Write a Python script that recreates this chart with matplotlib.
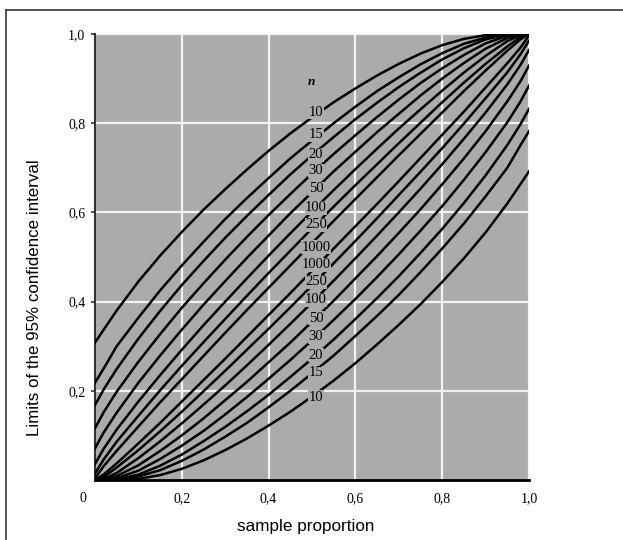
import numpy as np
import matplotlib.pyplot as plt
from matplotlib.lines import Line2D
from matplotlib.transforms import ScaledTranslation

p = [0, 0.02, 0.05, 0.1, 0.15, 0.2, 0.25, 0.3, 0.35, 0.4, 0.45, 0.5,
     0.55, 0.6, 0.65, 0.7, 0.75, 0.8, 0.85, 0.9, 0.95, 0.98, 1.0]

sizes = [10, 15, 20, 30, 50, 100, 250, 1000]

# upper limits of the 95% interval
upper_10 = [0.308, 0.337, 0.380, 0.445, 0.503, 0.556, 0.606, 0.652, 0.696, 0.738, 0.777, 0.813,
            0.847, 0.878, 0.907, 0.933, 0.956, 0.975, 0.989, 0.9975, 0.9995, 0.9999, 1.0]
upper_15 = [0.218, 0.250, 0.300, 0.364, 0.425, 0.481, 0.534, 0.585, 0.632, 0.677, 0.721, 0.761,
            0.800, 0.837, 0.872, 0.903, 0.932, 0.957, 0.978, 0.992, 0.9985, 0.9998, 1.0]
upper_20 = [0.168, 0.203, 0.249, 0.317, 0.379, 0.437, 0.491, 0.543, 0.592, 0.639, 0.685, 0.728,
            0.769, 0.809, 0.846, 0.881, 0.913, 0.943, 0.968, 0.988, 0.9987, 0.9998, 1.0]
upper_30 = [0.116, 0.152, 0.198, 0.265, 0.327, 0.386, 0.441, 0.494, 0.545, 0.594, 0.641, 0.687,
            0.731, 0.773, 0.814, 0.853, 0.890, 0.923, 0.953, 0.979, 0.996, 0.9997, 1.0]
upper_50 = [0.071, 0.1065, 0.151, 0.218, 0.279, 0.337, 0.393, 0.446, 0.498, 0.548, 0.598, 0.645,
            0.692, 0.736, 0.780, 0.821, 0.862, 0.900, 0.935, 0.967, 0.991, 0.9995, 1.0]
upper_100 = [0.036, 0.070, 0.113, 0.176, 0.235, 0.292, 0.347, 0.400, 0.452, 0.503, 0.553, 0.602,
             0.650, 0.697, 0.743, 0.788, 0.831, 0.873, 0.9135, 0.951, 0.984, 0.9976, 1.0]
upper_250 = [0.0146, 0.046, 0.086, 0.144, 0.201, 0.256, 0.309, 0.361, 0.413, 0.464, 0.514, 0.564,
             0.613, 0.661, 0.708, 0.755, 0.801, 0.847, 0.891, 0.933, 0.972, 0.9934, 1.0]
upper_1000 = [0.0037, 0.031, 0.0655, 0.120, 0.174, 0.226, 0.278, 0.330, 0.381, 0.431, 0.481, 0.531,
              0.581, 0.630, 0.679, 0.728, 0.776, 0.824, 0.872, 0.918, 0.9627, 0.9877, 1.0]

# lower limits of the 95% interval
lower_10 = [0.0, 0.0001, 0.0005, 0.0025, 0.011, 0.025, 0.044, 0.067, 0.093, 0.122, 0.153, 0.187,
            0.223, 0.262, 0.304, 0.348, 0.394, 0.444, 0.497, 0.555, 0.620, 0.663, 0.692]
lower_15 = [0.0, 0.0002, 0.0015, 0.008, 0.022, 0.043, 0.068, 0.097, 0.128, 0.163, 0.200, 0.239,
            0.279, 0.323, 0.368, 0.415, 0.466, 0.519, 0.575, 0.636, 0.700, 0.750, 0.782]
lower_20 = [0.0, 0.0002, 0.0013, 0.012, 0.032, 0.057, 0.087, 0.119, 0.154, 0.191, 0.231, 0.272,
            0.315, 0.361, 0.408, 0.457, 0.509, 0.563, 0.621, 0.683, 0.751, 0.797, 0.832]
lower_30 = [0.0, 0.0003, 0.004, 0.021, 0.047, 0.077, 0.110, 0.147, 0.186, 0.227, 0.269, 0.313,
            0.359, 0.406, 0.455, 0.506, 0.559, 0.614, 0.673, 0.735, 0.802, 0.848, 0.884]
lower_50 = [0.0, 0.0005, 0.009, 0.033, 0.065, 0.100, 0.138, 0.179, 0.220, 0.264, 0.308, 0.355,
            0.402, 0.452, 0.502, 0.554, 0.607, 0.663, 0.721, 0.782, 0.849, 0.8935, 0.929]
lower_100 = [0.0, 0.0024, 0.016, 0.049, 0.0865, 0.127, 0.169, 0.212, 0.257, 0.303, 0.350, 0.398,
             0.447, 0.497, 0.548, 0.600, 0.653, 0.708, 0.765, 0.824, 0.887, 0.930, 0.964]
lower_250 = [0.0, 0.0066, 0.028, 0.067, 0.109, 0.153, 0.199, 0.245, 0.292, 0.339, 0.387, 0.436,
             0.486, 0.536, 0.587, 0.639, 0.691, 0.744, 0.799, 0.856, 0.914, 0.954, 0.985]
lower_1000 = [0.0, 0.0123, 0.0373, 0.082, 0.128, 0.176, 0.224, 0.272, 0.321, 0.370, 0.419, 0.469,
              0.519, 0.569, 0.619, 0.670, 0.722, 0.774, 0.826, 0.880, 0.9345, 0.969, 0.9963]

upper = [upper_10, upper_15, upper_20, upper_30, upper_50, upper_100, upper_250, upper_1000]
lower = [lower_10, lower_15, lower_20, lower_30, lower_50, lower_100, lower_250, lower_1000]

xticks = [0, 0.2, 0.4, 0.6, 0.8, 1.0]
xtick_labels = ['0', '0,2', '0,4', '0,6', '0,8', '1,0']
yticks = [0.2, 0.4, 0.6, 0.8, 1.0]
ytick_labels = ['0,2', '0,4', '0,6', '0,8', '1,0']

bg = '#ababab'
serif = ['Liberation Serif', 'DejaVu Serif']
sans = ['Liberation Sans', 'DejaVu Sans']

fig = plt.figure(figsize=(6.23, 5.40), dpi=100)
ax = fig.add_axes([95 / 623, 1 - 480 / 540, 434 / 623, 446 / 540])
ax.set_facecolor(bg)

for u, l in zip(upper, lower):
    ax.plot(p, u, color='black', lw=1.8, zorder=3, solid_joinstyle='round')
    ax.plot(p, l, color='black', lw=1.8, zorder=3, solid_joinstyle='round')

# curve labels sit in a column near p = 0.51, boxed in the background colour
lab_x = 0.509
upper_label_y = [0.825, 0.774, 0.729, 0.693, 0.653, 0.610, 0.572, 0.522]   # 10 ... 1000
lower_label_y = [0.186, 0.240, 0.280, 0.321, 0.363, 0.404, 0.444, 0.483]   # 10 ... 1000
box = dict(facecolor=bg, edgecolor='none', pad=0.3)
for n, y in zip(sizes, upper_label_y):
    ax.text(lab_x, y, str(n), ha='center', va='center', fontsize=10.5,
            family=serif, bbox=box, zorder=4)
for n, y in zip(sizes, lower_label_y):
    ax.text(lab_x, y, str(n), ha='center', va='center', fontsize=10.5,
            family=serif, bbox=box, zorder=4)
ax.text(lab_x - 0.01, 0.893, 'n', ha='center', va='center', fontsize=9.5,
        family=serif, style='italic', weight='bold', zorder=4)

ax.set_xlim(0, 1)
ax.set_ylim(0, 1)
ax.set_xticks(xticks)
ax.set_xticklabels(xtick_labels, family=serif, fontsize=10)
ax.set_yticks(yticks)
ax.set_yticklabels(ytick_labels, family=serif, fontsize=10)
ax.grid(True, color='#f2f2f2', lw=1.6, zorder=1)
ax.set_axisbelow(True)

ax.tick_params(axis='x', length=0, pad=9)
ax.tick_params(axis='y', length=3, width=1.2, color='#333333', pad=4)
for s in ['top', 'right']:
    ax.spines[s].set_visible(False)
ax.spines['left'].set_color('#333333')
ax.spines['left'].set_linewidth(1.5)
ax.spines['bottom'].set_color('black')
ax.spines['bottom'].set_linewidth(2)

# the "0" on the x axis sits a little left of the origin
t0 = ax.get_xticklabels()[0]
t0.set_transform(t0.get_transform() + ScaledTranslation(-0.12, 0, fig.dpi_scale_trans))

fig.text(306 / 623, 1 - 527 / 540, 'sample proportion', ha='center', va='center',
         fontsize=12.3, family=sans)
fig.text(35 / 623, 1 - 298 / 540, 'Limits of the 95% confidence interval',
         ha='center', va='center', rotation=90, fontsize=12.2, family=sans)

# frame of the surrounding box
fig.add_artist(Line2D([6 / 623, 1], [1 - 10 / 540, 1 - 10 / 540], color='#333333', lw=1.2))
fig.add_artist(Line2D([6 / 623, 6 / 623], [0, 1 - 10 / 540], color='#333333', lw=1.2))

fig.savefig('out.png', dpi=100)
